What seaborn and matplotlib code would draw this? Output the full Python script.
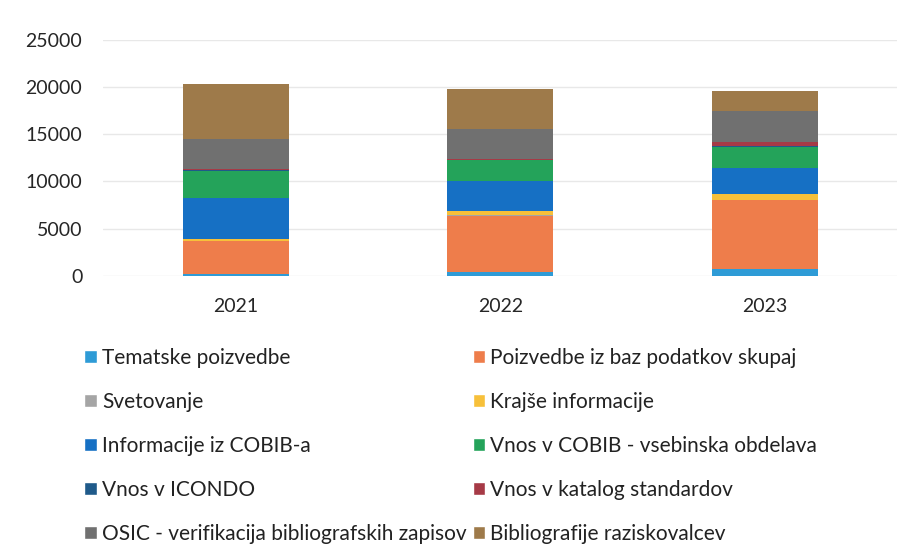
import numpy as np
import pandas as pd
import matplotlib.pyplot as plt
import seaborn as sns
from matplotlib.patches import Patch

years = ["2021", "2022", "2023"]
series = [
    "Tematske poizvedbe",
    "Poizvedbe iz baz podatkov skupaj",
    "Svetovanje",
    "Krajše informacije",
    "Informacije iz COBIB-a",
    "Vnos v COBIB - vsebinska obdelava",
    "Vnos v ICONDO",
    "Vnos v katalog standardov",
    "OSIC - verifikacija bibliografskih zapisov",
    "Bibliografije raziskovalcev",
]
tematske = [150, 450, 700]
poizvedbe = [3500, 5900, 7300]
svetovanje = [50, 100, 50]
krajse = [250, 400, 650]
informacije = [4300, 3200, 2750]
vnos_cobib = [2900, 2200, 2200]
vnos_icondo = [100, 80, 100]
vnos_katalog = [100, 50, 450]
osic = [3100, 3200, 3300]
bibliografije = [5900, 4200, 2100]

colors = ["#2E9BD6", "#EE7D4B", "#A5A5A5", "#F7C03A", "#1670C4",
          "#24A35A", "#1F5A8A", "#A63A46", "#707070", "#9E7A4A"]

values = [tematske, poizvedbe, svetovanje, krajse, informacije,
          vnos_cobib, vnos_icondo, vnos_katalog, osic, bibliografije]
cum = np.cumsum(np.array(values), axis=0)

sns.set_style("white")
plt.rcParams['font.family'] = ['Lato', 'DejaVu Sans']

fig = plt.figure(figsize=(9.13, 5.55), dpi=100)
ax = fig.add_axes([0.113, 0.503, 0.87, 0.425])

# stacked bars drawn as cumulative totals, top layer first
for i in range(len(series) - 1, -1, -1):
    df = pd.DataFrame({"year": years, "value": cum[i]})
    sns.barplot(data=df, x="year", y="value", color=colors[i], width=0.4,
                saturation=1, linewidth=0, ax=ax, zorder=2)

ax.set_ylim(0, 25000)
ax.set_yticks(range(0, 25001, 5000))
ax.grid(axis="y", color="#E8E8E8", linewidth=1, zorder=0)
ax.set_axisbelow(True)
sns.despine(ax=ax, left=True, bottom=True)
ax.tick_params(axis="both", length=0, labelsize=14, colors="#262626")
ax.tick_params(axis="x", pad=16)
ax.tick_params(axis="y", pad=15)
ax.set_xlabel("")
ax.set_ylabel("")

# legend fills column-wise, so reorder to read row by row
handles = [Patch(facecolor=c, label=s) for c, s in zip(colors, series)]
handles = handles[0::2] + handles[1::2]
fig.legend(handles=handles, ncol=2, loc="upper left",
           bbox_to_anchor=(0.083, 0.388), frameon=False, fontsize=15,
           handlelength=0.6, handleheight=0.6, handletextpad=0.25,
           columnspacing=0.3, labelspacing=1.15, labelcolor="#222222",
           borderaxespad=0)

fig.savefig("out.png", dpi=100)
